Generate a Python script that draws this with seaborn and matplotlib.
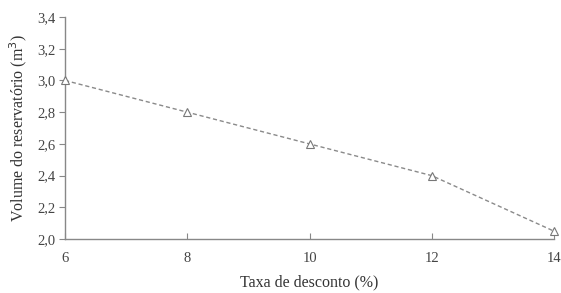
import matplotlib
matplotlib.use("Agg")
import matplotlib.pyplot as plt
import seaborn as sns
import pandas as pd

taxa = [6, 8, 10, 12, 14]
volume = [3.0, 2.8, 2.6, 2.4, 2.05]
yticks = [2.0, 2.2, 2.4, 2.6, 2.8, 3.0, 3.2, 3.4]
xticks = [6, 8, 10, 12, 14]

sns.set_style("white")
plt.rcParams["font.family"] = ["Liberation Serif", "DejaVu Serif"]

df = pd.DataFrame({"taxa": taxa, "volume": volume})

fig = plt.figure(figsize=(5.61, 2.93), dpi=100)
ax = fig.add_axes([0.116, 0.184, 0.8715, 0.758])
sns.lineplot(data=df, x="taxa", y="volume", ax=ax, color="#8a8a8a",
             linestyle=(0, (3, 2)), linewidth=1.0, marker="^", markersize=6,
             markerfacecolor="white", markeredgecolor="#777777", markeredgewidth=0.8,
             clip_on=False, zorder=5)

ax.set_xlim(6, 14)
ax.set_ylim(2.0, 3.4)
ax.set_xticks(xticks)
ax.set_yticks(yticks)
ax.set_yticklabels([f"{v:.1f}".replace(".", ",") for v in yticks])
for s in ["top", "right"]:
    ax.spines[s].set_visible(False)
for s in ["left", "bottom"]:
    ax.spines[s].set_color("#888888")
    ax.spines[s].set_linewidth(1.0)
ax.tick_params(axis="y", direction="out", length=4, color="#888888", labelsize=10.5,
               labelcolor="#444444", left=True, pad=3)
ax.tick_params(axis="x", direction="in", length=4, color="#888888", labelsize=10.5,
               labelcolor="#444444", bottom=True, pad=9)
ax.set_xlabel("Taxa de desconto (%)", fontsize=11.5, color="#333333", labelpad=7)
ax.set_ylabel("Volume do reservatório (m$^3$)", fontsize=11.5, color="#333333", labelpad=6)
ax.grid(False)

fig.savefig("out.png", dpi=100)
